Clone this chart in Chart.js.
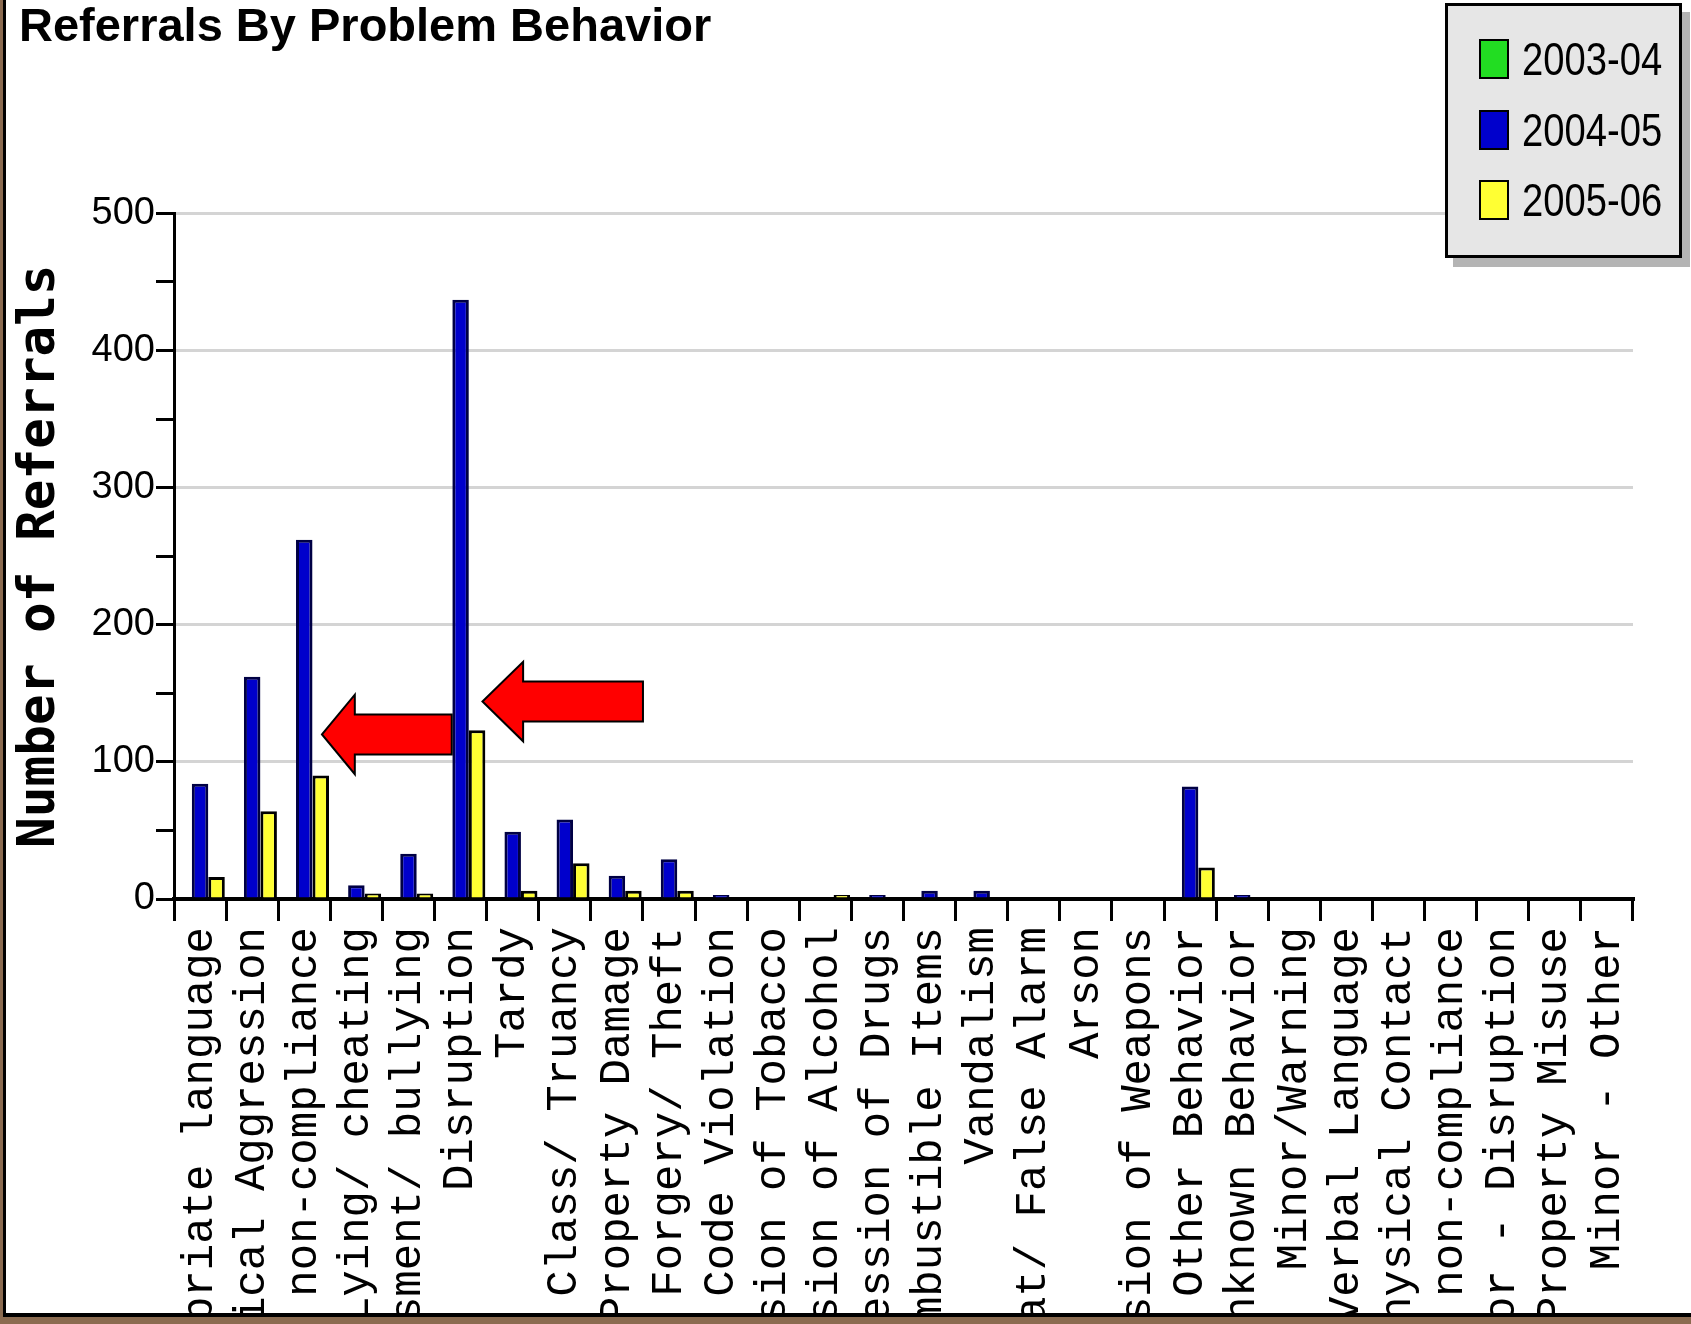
<!DOCTYPE html>
<html>
<head>
<meta charset="utf-8">
<title>Referrals By Problem Behavior</title>
<script src="https://cdn.jsdelivr.net/npm/chart.js@4.4.1/dist/chart.umd.min.js"></script>
<style>
  html, body { margin: 0; padding: 0; }
  body { width: 1691px; height: 1324px; background: #8b6b50; position: relative; overflow: hidden; }
  #frame {
    position: absolute; left: 3px; top: 0;
    width: 1685px; height: 1313px;
    background: #fff;
    border-left: 3px solid #000; border-bottom: 4px solid #000;
  }
  #frame canvas { position: absolute; left: 0; top: 0; }
  #legend {
    position: absolute; left: 1445px; top: 3px;
    width: 231px; height: 249px;
    border: 3px solid #000;
    background: #e6e6e6;
    box-shadow: 8px 9px 0 #b4b4b4;
    font-family: 'Liberation Sans', Arial, sans-serif;
    font-size: 46px; color: #000;
  }
  #legend .item { position: absolute; left: 31px; height: 40px; line-height: 40px; white-space: nowrap; }
  #legend .swatch { position: absolute; left: 0; top: 0; width: 26px; height: 36px; border: 2px solid #000; }
  #legend .label { position: absolute; left: 43px; top: 0; transform: scaleX(0.83); transform-origin: 0 50%; }
</style>
</head>
<body>
<div id="frame"><canvas id="chart" width="1685" height="1313"></canvas></div>
<div id="legend"></div>
<script>
const categories = [
  'Inappropriate language', 'Physical Aggression', 'Defiance/ non-compliance',
  'Lying/ cheating', 'Harassment/ bullying', 'Disruption', 'Tardy',
  'Skip Class/ Truancy', 'Property Damage', 'Forgery/ Theft',
  'Dress Code Violation', 'Use/Possession of Tobacco', 'Use/Possession of Alcohol',
  'Use/Possession of Drugs', 'Use/Possession of Combustible Items', 'Vandalism',
  'Bomb Threat/ False Alarm', 'Arson', 'Use/Possession of Weapons',
  'Other Behavior', 'Unknown Behavior', 'Minor/Warning',
  'Minor - Inappropriate Verbal Language', 'Minor - Physical Contact',
  'Minor - Defiance/ non-compliance', 'Minor - Disruption',
  'Minor - Property Misuse', 'Minor - Other'
];

const seriesNames = ['2003-04', '2004-05', '2005-06'];

const values2003 = [0, 0, 0, 0, 0, 0, 0, 0, 0, 0, 0, 0, 0, 0, 0, 0, 0, 0, 0, 0, 0, 0, 0, 0, 0, 0, 0, 0];
const values2004 = [84, 162, 262, 10, 33, 437, 49, 58, 17, 29, 3, 0, 0, 3, 6, 6, 0, 0, 0, 82, 3, 0, 0, 0, 0, 0, 0, 0];
const values2005 = [16, 64, 90, 4, 4, 123, 6, 26, 6, 6, 0, 0, 3, 0, 0, 0, 0, 0, 0, 23, 0, 0, 0, 0, 0, 0, 0, 0];

const yTickLabels = [0, 100, 200, 300, 400, 500];

// red call-out arrows, in axis units (category index / referrals)
const arrows = [
  { tip: 2.34, base: 2.97, tail: 4.83, at: 120, head: 29, shaft: 14.6 },
  { tip: 5.42, base: 6.20, tail: 8.50, at: 144, head: 29, shaft: 14.6 }
];

const colors = [
  { fill: '#22dd22', edge: '#0a3d0a' },
  { fill: '#0000cc', edge: '#000044' },
  { fill: '#ffff33', edge: '#000000' }
];

const arrowPlugin = {
  id: 'arrows',
  afterDatasetsDraw(chart) {
    const { ctx, scales: { x, y } } = chart;
    ctx.save();
    ctx.fillStyle = '#ff0000';
    ctx.strokeStyle = '#000';
    ctx.lineWidth = 2;
    arrows.forEach(a => {
      const px = v => x.getPixelForValue(v);
      const py = v => y.getPixelForValue(v);
      ctx.beginPath();
      ctx.moveTo(px(a.tip), py(a.at));
      ctx.lineTo(px(a.base), py(a.at + a.head));
      ctx.lineTo(px(a.base), py(a.at + a.shaft));
      ctx.lineTo(px(a.tail), py(a.at + a.shaft));
      ctx.lineTo(px(a.tail), py(a.at - a.shaft));
      ctx.lineTo(px(a.base), py(a.at - a.shaft));
      ctx.lineTo(px(a.base), py(a.at - a.head));
      ctx.closePath();
      ctx.fill();
      ctx.stroke();
    });
    ctx.restore();
  }
};

const seriesValues = [values2003, values2004, values2005];

const chart = new Chart(document.getElementById('chart').getContext('2d'), {
  type: 'bar',
  data: {
    labels: categories,
    datasets: seriesNames.map((name, i) => ({
      label: name,
      data: seriesValues[i],
      backgroundColor: colors[i].fill,
      borderColor: colors[i].edge,
      borderWidth: 3,
      barPercentage: 1,
      categoryPercentage: 0.95
    }))
  },
  options: {
    responsive: false,
    animation: false,
    devicePixelRatio: 1,
    layout: { padding: { left: 13, right: 58, top: 0, bottom: 0 } },
    plugins: {
      legend: { display: false },
      tooltip: { enabled: false },
      title: {
        display: true,
        text: 'Referrals By Problem Behavior',
        align: 'start',
        color: '#000',
        font: { family: "'Liberation Sans', Arial, sans-serif", size: 47, weight: 'bold', lineHeight: 1.2 },
        padding: { top: 0, bottom: 157 }
      }
    },
    scales: {
      x: {
        grid: { display: true, drawOnChartArea: false, offset: true, color: '#000', lineWidth: 3, tickLength: 22 },
        border: { display: true, color: '#000', width: 4 },
        ticks: {
          autoSkip: false, maxRotation: 90, minRotation: 90, padding: 6, color: '#000',
          font: { family: "'Liberation Mono', 'DejaVu Sans Mono', monospace", size: 44 }
        },
        afterFit(scale) { scale.height = 414; }
      },
      y: {
        min: 0,
        max: 500,
        ticks: {
          stepSize: 50, autoSkip: false, padding: 1, color: '#000',
          callback: v => yTickLabels.includes(v) ? String(v) : '',
          font: { family: "'Liberation Sans', Arial, sans-serif", size: 38 }
        },
        grid: {
          color: c => (c.tick && yTickLabels.includes(c.tick.value)) ? '#d4d4d4' : 'rgba(0,0,0,0)',
          tickColor: '#000', lineWidth: 3, tickWidth: 3, tickLength: 18
        },
        border: { display: true, color: '#000', width: 3 },
        title: {
          display: true,
          text: 'Number of Referrals',
          color: '#000',
          font: { family: "'DejaVu Sans Mono', monospace", size: 51, weight: 'bold', lineHeight: 1 },
          padding: { top: -4, bottom: 0 }
        },
        afterFit(scale) { scale.width = 155; }
      }
    }
  },
  plugins: [arrowPlugin]
});

// legend box built from the chart's datasets
const legendEl = document.getElementById('legend');
chart.data.datasets.forEach((ds, i) => {
  const item = document.createElement('div');
  item.className = 'item';
  item.style.top = (33 + 70.5 * i) + 'px';
  const sw = document.createElement('span');
  sw.className = 'swatch';
  sw.style.background = ds.backgroundColor;
  const tx = document.createElement('span');
  tx.className = 'label';
  tx.textContent = ds.label;
  item.appendChild(sw);
  item.appendChild(tx);
  legendEl.appendChild(item);
});
</script>
</body>
</html>
